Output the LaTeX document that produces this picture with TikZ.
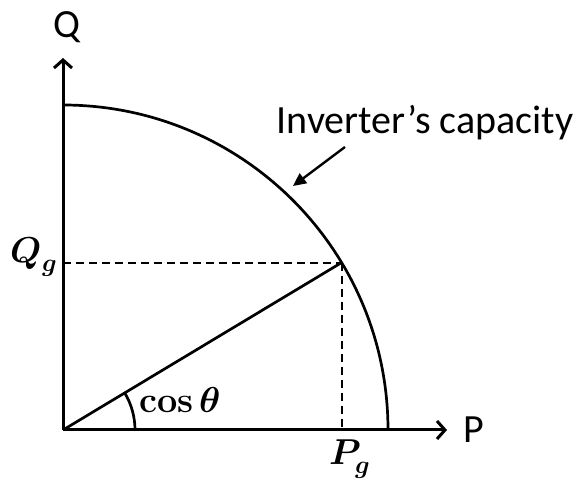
\documentclass[tikz,border=0pt]{standalone}
\usepackage{fontspec}
\usepackage{unicode-math}
\setsansfont{Carlito}
\usetikzlibrary{arrows.meta,positioning}

\begin{document}
\begin{tikzpicture}[
  x=1pt, y=1pt,
  axis/.style={line width=3pt, -{Straight Barb[length=8pt,width=18pt,line width=3pt]}},
  curve/.style={line width=2.7pt},
  guide/.style={line width=2pt, dash pattern=on 8pt off 5pt},
  pointer/.style={line width=2.4pt, -{Triangle[length=13pt,width=12pt]}},
  lbl/.style={inner sep=0pt, font=\sffamily\fontsize{40}{48}\selectfont},
  mlbl/.style={inner sep=0pt, font=\fontsize{36}{42}\selectfont}
]
\useasboundingbox (-63,-59) rectangle (515,430);
\coordinate (O) at (0,0);
\coordinate (qtop) at (0,372);
\coordinate (pend) at (384,0);
\coordinate (G) at (31:325);
\coordinate (Gq) at (0,0 |- G);
\coordinate (Gp) at (G |- O);
\coordinate (tail) at (282,283);
\coordinate (head) at (230,244);

% axes and capability circle
\draw[axis] (O) -- (qtop);
\draw[axis] (O) -- (pend);
\draw[curve] (0,325) arc[start angle=90, end angle=0, radius=325];
\draw[curve] (O) -- (G);
\draw[guide] (Gq) -- (G);
\draw[guide] (G) -- (Gp);
\draw[curve] (72,0) arc[start angle=0, end angle=31, radius=72];

\node[lbl, anchor=base] (Q) at (4,392) {Q};
\node[lbl, anchor=base] (P) at (411,-13) {P};
\node[lbl, anchor=base] (cap) at (362,296) {Inverter’s capacity};
\node[mlbl, anchor=base east] (Qg) at (-6,167) {$\symbfit{Q}_{\symbfit{g}}$};
\node[mlbl, anchor=base] (Pg) at (287,-35) {$\symbfit{P}_{\symbfit{g}}$};
\node[mlbl, anchor=base west] (cs) at (76,17) {$\mathbf{cos}\,\symbfit{\theta}$};
\draw[pointer] (tail) -- (head);
\end{tikzpicture}
\end{document}
